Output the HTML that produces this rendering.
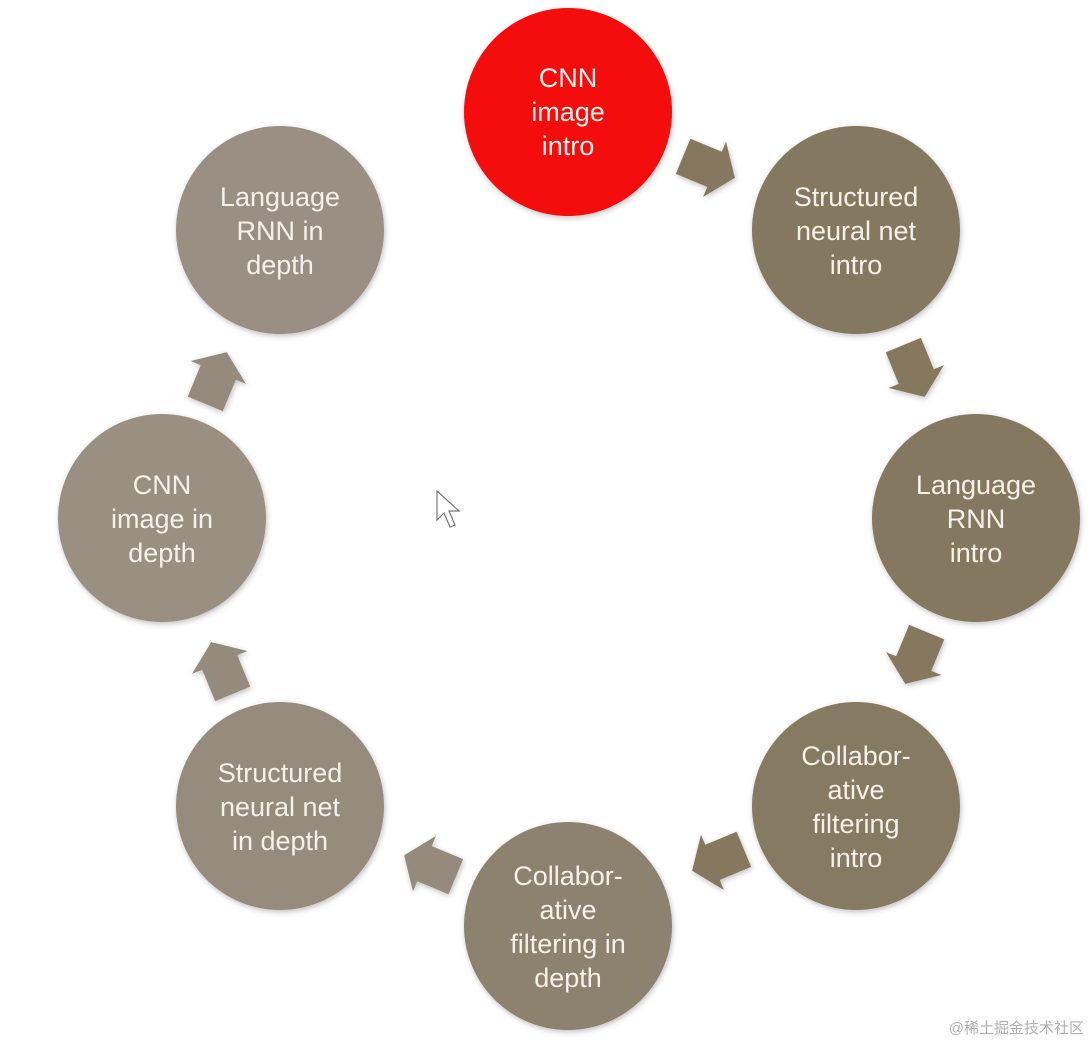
<!DOCTYPE html>
<html><head><meta charset="utf-8"><style>
html,body{margin:0;padding:0;background:#fff;}
body{width:1092px;height:1044px;position:relative;overflow:hidden;font-family:"Liberation Sans",sans-serif;}
svg{position:absolute;left:0;top:0;}
.wm{position:absolute;right:8px;bottom:6px;font-size:15px;color:#b0b0b0;font-family:"Liberation Sans","Noto Sans CJK SC",sans-serif;}
</style></head><body>
<svg width="1092" height="1044" viewBox="0 0 1092 1044">
<defs>
<filter id="sh" x="-20%" y="-20%" width="140%" height="140%"><feGaussianBlur in="SourceAlpha" stdDeviation="3"/><feOffset dx="1" dy="2"/><feComponentTransfer><feFuncA type="linear" slope="0.25"/></feComponentTransfer><feMerge><feMergeNode/><feMergeNode in="SourceGraphic"/></feMerge></filter>
<polygon id="ar" points="-28,-19 6,-19 6,-30 28,0 6,30 6,19 -28,19"/>
</defs>
<g filter="url(#sh)">
<circle cx="568" cy="112" r="104" fill="#f50a0a"/>
<circle cx="856" cy="230" r="104" fill="#857861"/>
<circle cx="976" cy="518" r="104" fill="#857860"/>
<circle cx="856" cy="806" r="104" fill="#877a64"/>
<circle cx="568" cy="926" r="104" fill="#8d826f"/>
<circle cx="280" cy="806" r="104" fill="#958c7d"/>
<circle cx="162" cy="518" r="104" fill="#999082"/>
<circle cx="280" cy="230" r="104" fill="#999083"/>
<g fill="#85785f"><use href="#ar" transform="translate(709,167) rotate(22.5)"/>
<use href="#ar" transform="translate(914,371) rotate(67.5)"/>
<use href="#ar" transform="translate(916,658) rotate(112.5)"/>
<use href="#ar" transform="translate(718,860) rotate(157.5)"/></g>
<g fill="#948b7c"><use href="#ar" transform="translate(430,866) rotate(202.5)"/>
<use href="#ar" transform="translate(222,668) rotate(247.5)"/>
<use href="#ar" transform="translate(216,378) rotate(292.5)"/></g>
</g>
<g fill="#f6f1e9" font-family="Liberation Sans, sans-serif" font-size="27" text-anchor="middle">
<text x="568" y="87">CNN</text><text x="568" y="121">image</text><text x="568" y="155">intro</text>
<text x="856" y="206">Structured</text><text x="856" y="240">neural net</text><text x="856" y="274">intro</text>
<text x="976" y="494">Language</text><text x="976" y="528">RNN</text><text x="976" y="562">intro</text>
<text x="856" y="765">Collabor-</text><text x="856" y="799">ative</text><text x="856" y="833">filtering</text><text x="856" y="867">intro</text>
<text x="568" y="885">Collabor-</text><text x="568" y="919">ative</text><text x="568" y="953">filtering in</text><text x="568" y="987">depth</text>
<text x="280" y="782">Structured</text><text x="280" y="816">neural net</text><text x="280" y="850">in depth</text>
<text x="162" y="494">CNN</text><text x="162" y="528">image in</text><text x="162" y="562">depth</text>
<text x="280" y="206">Language</text><text x="280" y="240">RNN in</text><text x="280" y="274">depth</text>
</g>
<path d="M437,491 L437,520 L444,513 L450,527 L455,525 L449,511 L459,511 Z" fill="#fff" stroke="#777" stroke-width="1.2"/>
</svg>
<div class="wm">@稀土掘金技术社区</div>
</body></html>
